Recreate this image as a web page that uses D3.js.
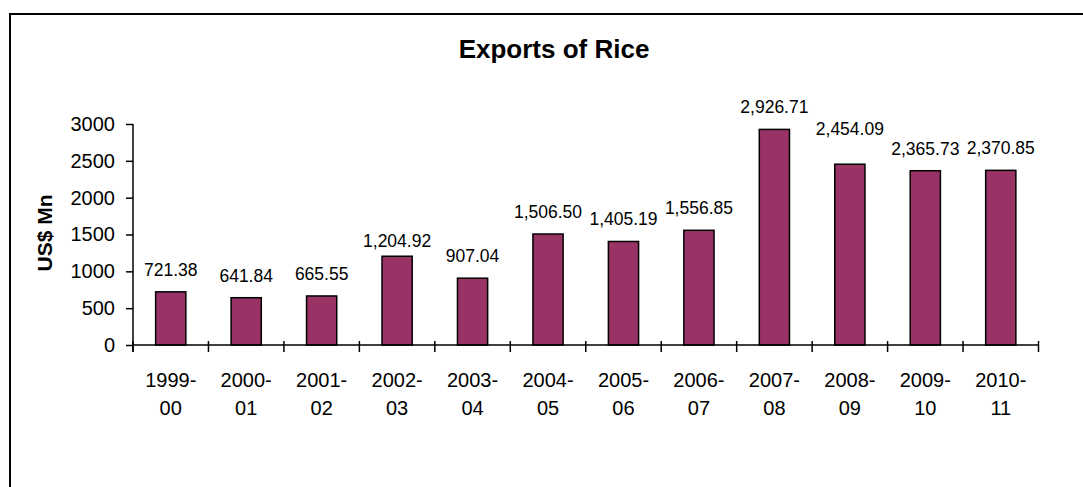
<!DOCTYPE html>
<html>
<head>
<meta charset="utf-8">
<script src="https://cdn.jsdelivr.net/npm/d3@7"></script>
<style>
  html, body { margin: 0; padding: 0; background: #fff; }
  svg { display: block; font-family: "Liberation Sans", Arial, sans-serif; }
</style>
</head>
<body>
<svg id="chart" width="1083" height="487"></svg>
<script>
// Rice export earnings by fiscal year (US$ million)
const years = ["1999-00", "2000-01", "2001-02", "2002-03", "2003-04", "2004-05",
               "2005-06", "2006-07", "2007-08", "2008-09", "2009-10", "2010-11"];
const exportValues = [721.38, 641.84, 665.55, 1204.92, 907.04, 1506.50,
                      1405.19, 1556.85, 2926.71, 2454.09, 2365.73, 2370.85];
const yTicks = [0, 500, 1000, 1500, 2000, 2500, 3000];
// Hand-placed value labels: vertical nudge in px (positive = up)
const labelNudge = { "2002-03": -7, "2008-09": 13 };

const svg = d3.select("#chart");
const margin = { left: 133, right: 45, top: 124, bottom: 142 };

// outer chart frame
svg.append("rect")
  .attr("x", 10).attr("y", 14)
  .attr("width", 1200).attr("height", 600)
  .attr("fill", "none").attr("stroke", "#000").attr("stroke-width", 2);

const x = d3.scaleBand()
  .domain(years)
  .range([margin.left, 1038.5])
  .paddingInner(0.6).paddingOuter(0.3);

const y = d3.scaleLinear()
  .domain([0, 3000])
  .range([345, 124]);

// title
svg.append("text")
  .attr("x", 554).attr("y", 58)
  .attr("text-anchor", "middle")
  .attr("font-size", 26).attr("font-weight", "bold")
  .text("Exports of Rice");

// y axis title
svg.append("text")
  .attr("transform", "translate(52,233) rotate(-90)")
  .attr("text-anchor", "middle")
  .attr("font-size", 21).attr("font-weight", "bold")
  .text("US$ Mn");

// bars
svg.append("g").selectAll("rect")
  .data(exportValues)
  .join("rect")
  .attr("x", (d, i) => x(years[i]))
  .attr("y", d => y(d))
  .attr("width", x.bandwidth())
  .attr("height", d => y(0) - y(d))
  .attr("fill", "#993366")
  .attr("stroke", "#000").attr("stroke-width", 1.5);

// value labels
const fmt = d3.format(",.2f");
svg.append("g").selectAll("text")
  .data(exportValues)
  .join("text")
  .attr("x", (d, i) => x(years[i]) + x.bandwidth() / 2)
  .attr("y", (d, i) => y(d) - 16 - (labelNudge[years[i]] || 0))
  .attr("text-anchor", "middle")
  .attr("font-size", 17.5)
  .text(d => fmt(d));

// y axis
const yAxis = svg.append("g")
  .attr("transform", `translate(${margin.left},0)`)
  .call(d3.axisLeft(y).tickValues(yTicks).tickSize(7).tickPadding(11).tickFormat(d3.format("d")));
yAxis.select(".domain").remove();
yAxis.append("line")
  .attr("x1", 0).attr("x2", 0).attr("y1", 124).attr("y2", 352)
  .attr("stroke", "#000").attr("stroke-width", 1.5);
yAxis.selectAll(".tick line").attr("stroke-width", 1.5);
yAxis.selectAll("text").attr("font-size", 20).attr("fill", "#000").attr("font-family", "Liberation Sans, Arial, sans-serif");

// x axis: baseline with cross ticks at category boundaries
const xg = svg.append("g");
xg.append("line")
  .attr("x1", margin.left).attr("x2", 1038.5)
  .attr("y1", y(0)).attr("y2", y(0))
  .attr("stroke", "#000").attr("stroke-width", 1.5);
const step = x.step();
const bounds = d3.range(years.length + 1).map(i => margin.left + i * step);
xg.selectAll("line.tk")
  .data(bounds)
  .join("line")
  .attr("class", "tk")
  .attr("x1", d => d).attr("x2", d => d)
  .attr("y1", y(0) - 4).attr("y2", y(0) + 7)
  .attr("stroke", "#000").attr("stroke-width", 1.5);

// category labels split over two lines
const cat = xg.selectAll("text")
  .data(years)
  .join("text")
  .attr("text-anchor", "middle")
  .attr("font-size", 20);
cat.append("tspan")
  .attr("x", d => x(d) + x.bandwidth() / 2)
  .attr("y", 387)
  .text(d => d.split("-")[0] + "-");
cat.append("tspan")
  .attr("x", d => x(d) + x.bandwidth() / 2)
  .attr("y", 415)
  .text(d => d.split("-")[1]);
</script>
</body>
</html>
